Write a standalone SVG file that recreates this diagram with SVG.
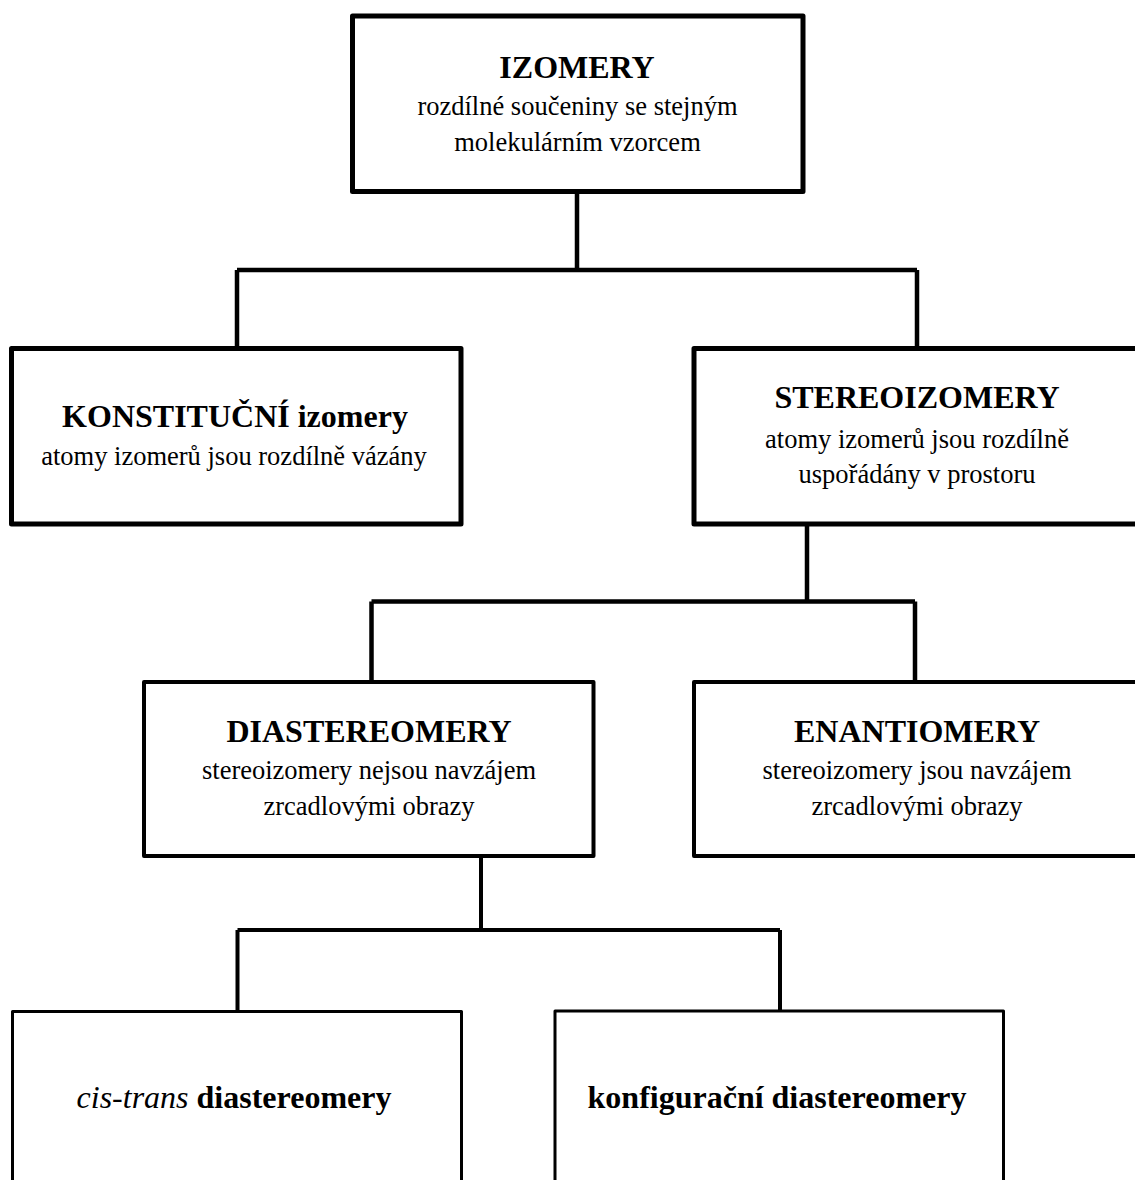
<svg xmlns="http://www.w3.org/2000/svg" width="1135" height="1180" viewBox="0 0 1135 1180">
<style>
.box{fill:#fff;stroke:#000;stroke-linejoin:round}
.b5{stroke-width:5}
.b4{stroke-width:4}
.b3{stroke-width:3}
.conn{fill:none;stroke:#000;stroke-linejoin:round}
text{font-family:"Liberation Serif","Times New Roman",serif;fill:#000;text-anchor:middle}
.h{font-size:32px;font-weight:bold}
.s{font-size:26.5px}
</style>
<rect width="1135" height="1180" fill="#fff"/>
<g id="connectors">
<path class="conn" stroke-width="4.5" d="M577,192 V270 M237,270 H917 M237,270 V348 M917,270 V348"/>
<path class="conn" stroke-width="4.5" d="M807,524 V601.5 M371.5,601.5 H915 M371.5,601.5 V682 M915,601.5 V682"/>
<path class="conn" stroke-width="4" d="M481,856 V930 M237.5,930 H780 M237.5,930 V1011 M780,930 V1011"/>
</g>
<g id="izomery">
<rect class="box b5" x="352.5" y="16" width="450.5" height="175.5"/>
<text class="h" x="577" y="78">IZOMERY</text>
<text class="s" x="577.5" y="114.5">rozdílné součeniny se stejným</text>
<text class="s" x="577.5" y="150.5">molekulárním vzorcem</text>
</g>
<g id="konstitucni">
<rect class="box b5" x="11.5" y="348.5" width="449.5" height="175.5"/>
<text class="h" x="235" y="427">KONSTITUČNÍ izomery</text>
<text class="s" x="234" y="465">atomy izomerů jsou rozdílně vázány</text>
</g>
<g id="stereoizomery">
<rect class="box b5" x="694" y="348.5" width="450" height="175.5"/>
<text class="h" x="917" y="408">STEREOIZOMERY</text>
<text class="s" x="917" y="447.5">atomy izomerů jsou rozdílně</text>
<text class="s" x="917" y="483">uspořádány v prostoru</text>
</g>
<g id="diastereomery">
<rect class="box b4" x="144" y="682" width="449.5" height="174"/>
<text class="h" x="369" y="742">DIASTEREOMERY</text>
<text class="s" x="369" y="778.5">stereoizomery nejsou navzájem</text>
<text class="s" x="369" y="814.5">zrcadlovými obrazy</text>
</g>
<g id="enantiomery">
<rect class="box b4" x="694" y="682" width="450" height="174"/>
<text class="h" x="917" y="742">ENANTIOMERY</text>
<text class="s" x="917" y="778.5">stereoizomery jsou navzájem</text>
<text class="s" x="917" y="814.5">zrcadlovými obrazy</text>
</g>
<g id="cistrans">
<rect class="box b3" x="12.5" y="1011.5" width="449" height="180"/>
<text class="h" x="234" y="1108"><tspan font-style="italic" font-weight="normal">cis-trans</tspan> diastereomery</text>
</g>
<g id="konfiguracni">
<rect class="box b3" x="555" y="1011" width="448.5" height="180"/>
<text class="h" x="777" y="1108">konfigurační diastereomery</text>
</g>
</svg>
